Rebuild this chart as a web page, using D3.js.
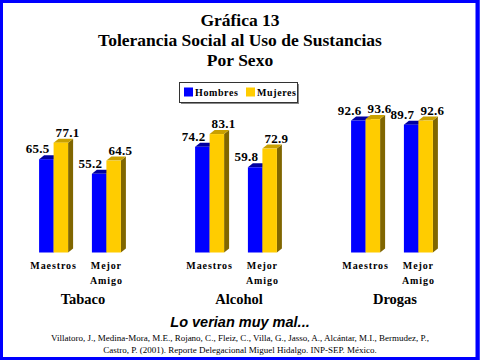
<!DOCTYPE html>
<html><head><meta charset="utf-8">
<script src="https://cdn.jsdelivr.net/npm/d3@7"></script>
<style>
html,body{margin:0;padding:0;background:#fff;}
svg{display:block;}
</style></head>
<body>
<script>
const titleLines = ["Gráfica 13", "Tolerancia Social al Uso de Sustancias", "Por Sexo"];
const categories = ["Tabaco", "Alcohol", "Drogas"];
const groups = ["Maestros", "Mejor Amigo"];
const series = ["Hombres", "Mujeres"];
const hombres = [65.5, 55.2, 74.2, 59.8, 92.6, 89.7];
const mujeres = [77.1, 64.5, 83.1, 72.9, 93.6, 92.6];
const subtitle = "Lo verian muy mal...";
const citation = ["Villatoro, J., Medina-Mora, M.E., Rojano, C., Fleiz, C., Villa, G., Jasso, A., Alcántar, M.I., Bermudez, P.,",
                  "Castro, P. (2001). Reporte Delegacional Miguel Hidalgo. INP-SEP. México."];

const W = 480, H = 360;
const colors = {Hombres: {front: "#0000ff", top: "#0000a0", side: "#00006a"},
                Mujeres: {front: "#ffcc00", top: "#c9a000", side: "#806600"}};
const DX = 5, DY = 4;
const SERIF = '"Liberation Serif", "Times New Roman", serif';
const SANS = '"Liberation Sans", Arial, sans-serif';

const svg = d3.select("body").append("svg").attr("width", W).attr("height", H);
svg.append("rect").attr("width", W).attr("height", H).attr("fill", "#fff");

// title
svg.append("g").selectAll("text").data(titleLines).join("text")
  .style("font-family", SERIF)
  .attr("x", 240).attr("y", (d, i) => 26 + i * 20)
  .attr("text-anchor", "middle")
  .attr("font-weight", "bold").attr("font-size", 17.5).attr("fill", "#000").text(d => d);

// scales
const x0 = d3.scaleBand().domain(categories).range([2, 470]);
const x1 = d3.scaleBand().domain(groups).range([0, x0.bandwidth()]).paddingOuter(0.477);
const xs = d3.scaleBand().domain(series)
  .range([x1.bandwidth() / 2 - 14.5, x1.bandwidth() / 2 + 14.5]);
const y = d3.scaleLinear().domain([0, 100]).range([252.5, 110]);

const data = [];
categories.forEach((c, ci) => groups.forEach((g, gi) => {
  const idx = ci * groups.length + gi;
  data.push({c, g, s: "Hombres", v: hombres[idx]});
  data.push({c, g, s: "Mujeres", v: mujeres[idx]});
}));

const bars = svg.append("g");
data.forEach(d => {
  const xl = x0(d.c) + x1(d.g) + xs(d.s);
  const w = xs.bandwidth();
  const yt = y(d.v), yb = y(0);
  const col = colors[d.s];
  const gg = bars.append("g");
  gg.append("path").attr("fill", col.side)
    .attr("d", `M${xl + w},${yb} L${xl + w + DX},${yb - DY} L${xl + w + DX},${yt - DY} L${xl + w},${yt} Z`);
  gg.append("path").attr("fill", col.top)
    .attr("d", `M${xl},${yt} L${xl + DX},${yt - DY} L${xl + w + DX},${yt - DY} L${xl + w},${yt} Z`);
  gg.append("rect").attr("x", xl).attr("y", yt).attr("width", w).attr("height", yb - yt).attr("fill", col.front);
  const isH = d.s === "Hombres";
  bars.append("text").style("font-family", SERIF)
    .attr("x", isH ? xl + w - 4 : xl + 2)
    .attr("y", yt - 6)
    .attr("text-anchor", isH ? "end" : "start")
    .attr("font-weight", "bold").attr("font-size", 13)
    .attr("letter-spacing", 0.3)
    .text(d.v.toFixed(1));
});

// group labels
categories.forEach(c => groups.forEach(g => {
  const cx = x0(c) + x1(g) + x1.bandwidth() / 2;
  const words = g.split(" ");
  svg.append("text").style("font-family", SERIF).attr("x", cx).attr("y", 269).attr("text-anchor", "middle")
    .attr("font-weight", "bold").attr("font-size", 10)
    .attr("letter-spacing", 0.9)
    .selectAll("tspan").data(words).join("tspan")
    .attr("x", cx).attr("dy", (d, i) => i === 0 ? 0 : 15).text(d => d);
}));

// category labels
svg.append("g").selectAll("text").data(categories).join("text").style("font-family", SERIF)
  .attr("x", d => x0(d) + x0.bandwidth() / 2 + 3).attr("y", 304)
  .attr("text-anchor", "middle").attr("font-weight", "bold")
  .attr("font-size", 14.5).text(d => d);

// legend
const lg = svg.append("g");
lg.append("rect").attr("x", 181).attr("y", 84).attr("width", 118).attr("height", 20)
  .attr("fill", "#888");
lg.append("rect").attr("x", 179.5).attr("y", 82.5).attr("width", 118).attr("height", 20)
  .attr("fill", "#fff").attr("stroke", "#333").attr("stroke-width", 1);
const li = lg.selectAll("g").data(series).join("g")
  .attr("transform", (d, i) => `translate(${184 + i * 62},87.5)`);
li.append("rect").attr("width", 9).attr("height", 9).attr("fill", d => colors[d].front);
li.append("text").style("font-family", SERIF).attr("x", 11).attr("y", 8.5).attr("font-weight", "bold")
  .attr("font-size", 10).attr("letter-spacing", 0.6).text(d => d);

// subtitle and citation
svg.append("text").style("font-family", SANS).attr("x", 240).attr("y", 327).attr("text-anchor", "middle")
  .attr("font-style", "italic").attr("font-weight", "bold").attr("font-size", 14.5).text(subtitle);
svg.append("g").selectAll("text").data(citation).join("text").style("font-family", SERIF)
  .attr("x", 240).attr("y", (d, i) => 341 + i * 12).attr("text-anchor", "middle")
  .attr("font-size", 9).text(d => d);

// border
svg.append("rect").attr("x", 1.5).attr("y", 1.5).attr("width", W - 3.5).attr("height", H - 3)
  .attr("fill", "none").attr("stroke", "#0000ff").attr("stroke-width", 3);
svg.append("line").attr("x1", 477.5).attr("x2", 477.5).attr("y1", 0).attr("y2", H)
  .attr("stroke", "#0000ff").attr("stroke-width", 4);
</script>
</body></html>
